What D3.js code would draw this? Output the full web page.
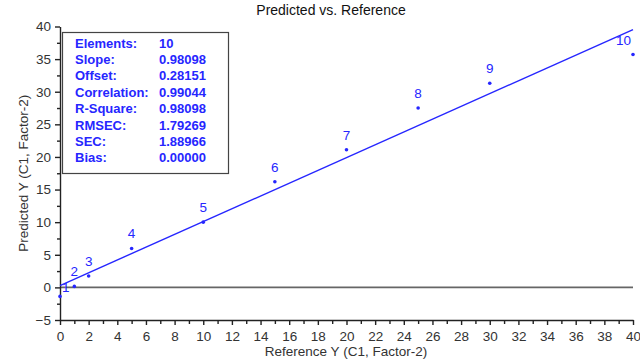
<!DOCTYPE html>
<html><head><meta charset="utf-8">
<script src="https://cdn.jsdelivr.net/npm/d3@7"></script>
<style>body{margin:0;background:#fff}svg{display:block;font-family:Arial,"Liberation Sans",sans-serif}</style>
</head><body><svg id="c" width="640" height="362"></svg>
<script>
const refX = [0, 1, 2, 5, 10, 15, 20, 25, 30, 40];
const predY = [-1.38, 0.15, 1.74, 5.97, 10.0, 16.2, 21.1, 27.5, 31.3, 35.7];
const pointLabels = ["1","2","3","4","5","6","7","8","9","10"];
const statNames = ["Elements:","Slope:","Offset:","Correlation:","R-Square:","RMSEC:","SEC:","Bias:"];
const statValues = ["10","0.98098","0.28151","0.99044","0.98098","1.79269","1.88966","0.00000"];
const slope = 0.98098, offset = 0.28151;
const xTicks = d3.range(0, 41, 2);
const yTicks = d3.range(-5, 41, 5);

const svg = d3.select("#c");
const L = 60, R = 633, T = 26.5, B = 320;
const x = d3.scaleLinear().domain([0, 40]).range([L, R]);
const y = d3.scaleLinear().domain([-5, 40]).range([B, T]);
const blue = "#2626ff", axisCol = "#222", txtCol = "#333";

// title
svg.append("text").attr("x", 331).attr("y", 15).attr("text-anchor", "middle")
  .attr("font-size", 14).attr("fill", "#111").text("Predicted vs. Reference");

// zero line
svg.append("line").attr("x1", x(0)).attr("x2", x(40)).attr("y1", y(0)).attr("y2", y(0))
  .attr("stroke", "#666").attr("stroke-width", 1.6);

// axes
const xAxis = svg.append("g").attr("transform", `translate(0,${B})`)
  .call(d3.axisBottom(x).tickValues(xTicks).tickSize(5).tickSizeOuter(0).tickPadding(6));
const xMinor = svg.append("g").attr("transform", `translate(0,${B})`)
  .call(d3.axisBottom(x).tickValues(d3.range(1, 40, 2)).tickSize(4).tickFormat("").tickSizeOuter(0));
xMinor.select(".domain").remove();
const yAxis = svg.append("g").attr("transform", `translate(${L},0)`)
  .call(d3.axisLeft(y).tickValues(yTicks).tickSize(5).tickSizeOuter(0).tickPadding(4));
const yMinor = svg.append("g").attr("transform", `translate(${L},0)`)
  .call(d3.axisLeft(y).tickValues(d3.range(-2.5, 40, 5)).tickSize(3).tickFormat("").tickSizeOuter(0));
yMinor.select(".domain").remove();
[xAxis, yAxis, xMinor, yMinor].forEach(g => {
  g.selectAll("path,line").attr("stroke", axisCol).attr("stroke-width", 1.4);
  g.selectAll("text").attr("font-size", 13.5).attr("fill", txtCol).attr("font-family", "Arial, 'Liberation Sans', sans-serif");
});

// axis titles
svg.append("text").attr("x", 346).attr("y", 356).attr("text-anchor", "middle")
  .attr("font-size", 13.5).attr("fill", txtCol).text("Reference Y (C1, Factor-2)");
svg.append("text").attr("transform", `translate(28,${(T + B) / 2}) rotate(-90)`)
  .attr("text-anchor", "middle").attr("font-size", 13.5).attr("fill", txtCol)
  .text("Predicted Y (C1, Factor-2)");

// regression line
svg.append("line").attr("x1", x(0)).attr("y1", y(offset)).attr("x2", x(40)).attr("y2", y(offset + slope * 40))
  .attr("stroke", blue).attr("stroke-width", 1.4);

// points
svg.append("g").selectAll("circle").data(refX).join("circle")
  .attr("cx", d => x(d)).attr("cy", (d, i) => y(predY[i])).attr("r", 1.8).attr("fill", blue);

// point labels
const lbl = svg.append("g").attr("font-size", 13.5).attr("fill", blue).attr("text-anchor", "middle");
refX.forEach((d, i) => {
  const t = lbl.append("text").text(pointLabels[i]);
  const w = t.node().getComputedTextLength();
  let px = x(d), py = y(predY[i]) - 10;
  if (px - w / 2 < L + 2) { px = L + 2 + w / 2; py = y(predY[i]) - 4; }
  if (px + w / 2 > R - 2) { px = R - 2 - w / 2; }
  t.attr("x", px).attr("y", py);
});

// stats box
svg.append("rect").attr("x", 62.5).attr("y", 32.5).attr("width", 166).attr("height", 141)
  .attr("fill", "#fff").attr("stroke", "#444").attr("stroke-width", 1.2);
const sb = svg.append("g").attr("font-size", 13).attr("font-weight", "bold").attr("fill", blue);
statNames.forEach((n, i) => {
  sb.append("text").attr("x", 75).attr("y", 47.5 + i * 16.4).text(n);
  sb.append("text").attr("x", 159).attr("y", 47.5 + i * 16.4).text(statValues[i]);
});
</script></body></html>
